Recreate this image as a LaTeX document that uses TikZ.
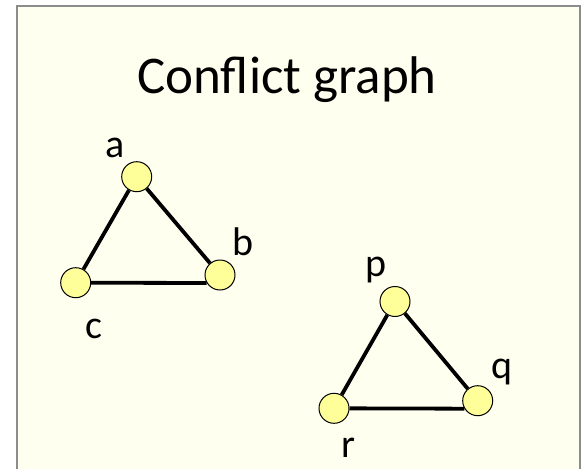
\documentclass[tikz,border=0pt]{standalone}
\usepackage{fontspec}
\setmainfont{Carlito}
\definecolor{bgyellow}{HTML}{FFFFF0}
\definecolor{nodeyellow}{HTML}{FFFF99}
\definecolor{framegray}{HTML}{8C8C8C}
\begin{document}
\begin{tikzpicture}[x=1pt,y=-1pt,
  vert/.style={circle,draw=black,line width=1pt,fill=nodeyellow,minimum size=30pt,inner sep=0pt},
  edge/.style={line width=3.8pt,black},
  lbl/.style={font=\fontsize{40}{48}\selectfont,inner sep=0pt,anchor=base}]
\useasboundingbox (0,0) rectangle (582,469);
\fill[white] (0,0) rectangle (582,469);
\fill[bgyellow] (17,6) rectangle (580,475);
\draw[framegray,line width=1.5pt] (17,475) -- (17,6) -- (580,6) -- (580,475);
\node[font=\fontsize{53}{60}\selectfont,inner sep=0pt,anchor=base] (title) at (287,93) {Conflict graph};
\node[vert] (a) at (136.7,176.7) {};
\node[vert] (b) at (220,275) {};
\node[vert] (c) at (75.7,282.7) {};
\node[vert] (p) at (395,301.5) {};
\node[vert] (q) at (477.7,400.7) {};
\node[vert] (r) at (334,408.3) {};
\draw[edge] (a) -- (b);
\draw[edge] (a) -- (c);
\draw[edge] (c) -- (b.211);
\draw[edge] (p) -- (q);
\draw[edge] (p) -- (r);
\draw[edge] (r) -- (q.211);
\node[lbl] (la) at (115,157) {a};
\node[lbl] (lb) at (243,255) {b};
\node[lbl] (lc) at (94,338) {c};
\node[lbl] (lp) at (376,276) {p};
\node[lbl] (lq) at (502,378) {q};
\node[lbl] (lr) at (348,457) {r};
\end{tikzpicture}
\end{document}
